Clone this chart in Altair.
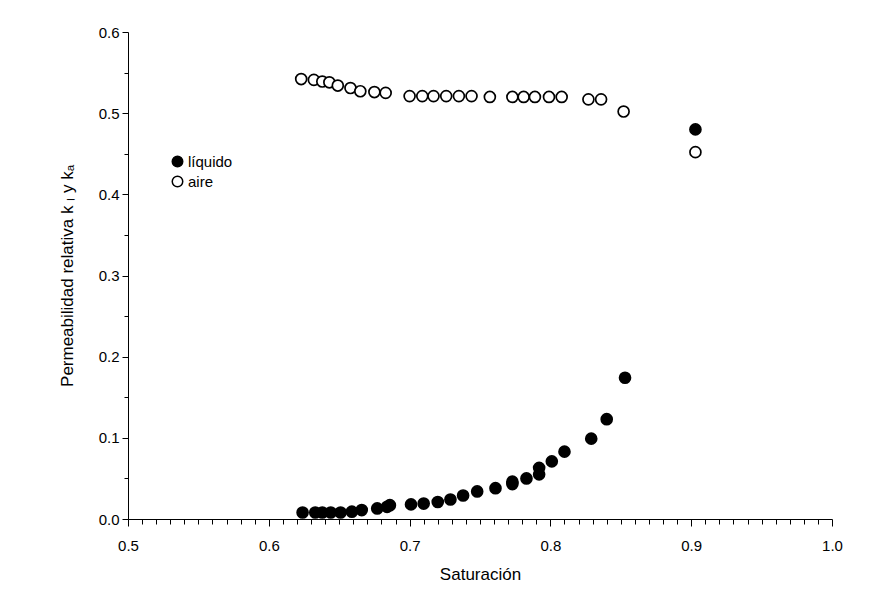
import altair as alt
import pandas as pd

series = ["líquido", "aire"]

sat_liquido = [0.624, 0.633, 0.638, 0.644, 0.651, 0.659, 0.666, 0.677, 0.684, 0.686,
               0.701, 0.710, 0.720, 0.729, 0.738, 0.748, 0.761, 0.773, 0.773, 0.783,
               0.792, 0.792, 0.801, 0.810, 0.829, 0.840, 0.853, 0.903]
k_liquido = [0.008, 0.008, 0.008, 0.008, 0.008, 0.009, 0.011, 0.013, 0.015, 0.017,
             0.018, 0.019, 0.021, 0.024, 0.029, 0.034, 0.038, 0.043, 0.046, 0.050,
             0.055, 0.063, 0.071, 0.083, 0.099, 0.123, 0.174, 0.480]

sat_aire = [0.623, 0.632, 0.638, 0.643, 0.649, 0.658, 0.665, 0.675, 0.683,
            0.700, 0.709, 0.717, 0.726, 0.735, 0.744, 0.757,
            0.773, 0.781, 0.789, 0.799, 0.808, 0.827, 0.836, 0.852, 0.903]
k_aire = [0.542, 0.541, 0.539, 0.538, 0.534, 0.531, 0.527, 0.526, 0.525,
          0.521, 0.521, 0.521, 0.521, 0.521, 0.521, 0.520,
          0.520, 0.520, 0.520, 0.520, 0.520, 0.517, 0.517, 0.502, 0.452]

x_ticks = [round(0.5 + i * 0.01, 2) for i in range(51)]
y_ticks = [round(i * 0.05, 2) for i in range(13)]

rows = [{"sat": s, "k": k, "serie": series[0]} for s, k in zip(sat_liquido, k_liquido)]
rows += [{"sat": s, "k": k, "serie": series[1]} for s, k in zip(sat_aire, k_aire)]
df = pd.DataFrame(rows)

major = "abs(datum.value*10 - round(datum.value*10)) < 0.001"

chart = alt.Chart(df).mark_point(
    filled=True, shape="circle", size=120, stroke="black", strokeWidth=1.7,
    opacity=1, fillOpacity=1
).encode(
    x=alt.X("sat:Q",
            scale=alt.Scale(domain=[0.5, 1.0], nice=False, zero=False),
            axis=alt.Axis(values=x_ticks, title="Saturación",
                          labelExpr=f"{major} ? format(datum.value, '.1f') : ''",
                          tickSize={"condition": {"test": major, "value": 7}, "value": 5},
                          labelFlush=False, labelOverlap=False, grid=False,
                          labelPadding=12, titlePadding=13)),
    y=alt.Y("k:Q",
            scale=alt.Scale(domain=[0, 0.6], nice=False),
            axis=alt.Axis(values=y_ticks, title="Permeabilidad relativa k ₗ y kₐ",
                          labelExpr=f"{major} ? format(datum.value, '.1f') : ''",
                          tickSize={"condition": {"test": major, "value": 6}, "value": 4},
                          labelFlush=False, labelOverlap=False, grid=False,
                          labelPadding=3, titlePadding=22)),
    fill=alt.Fill("serie:N",
                  scale=alt.Scale(domain=series, range=["black", "white"]),
                  legend=alt.Legend(orient="none", legendX=42, legendY=122, title=None,
                                    symbolType="circle", symbolSize=110,
                                    symbolStrokeColor="black", symbolStrokeWidth=1.5,
                                    labelFontSize=15, rowPadding=3, labelOffset=3)),
).properties(
    width=704, height=487,
    autosize=alt.AutoSizeParams(type="none"),
    padding={"left": 120, "top": 24, "right": 38, "bottom": 63},
    background="white",
).configure_view(
    stroke=None
).configure_axis(
    domainColor="black", tickColor="black", labelColor="black", titleColor="black",
    labelFont="Liberation Sans", titleFont="Liberation Sans",
    labelFontSize=15, titleFontSize=17, titleFontWeight="normal",
    domainWidth=1, tickWidth=1
).configure_legend(
    labelFont="Liberation Sans", labelColor="black"
)

chart.save("out.html", embed_options={"renderer": "svg", "actions": False})
